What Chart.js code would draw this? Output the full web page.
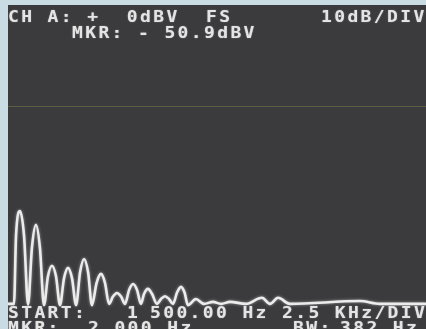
<!DOCTYPE html>
<html>
<head>
<meta charset="utf-8">
<script src="https://cdn.jsdelivr.net/npm/chart.js@4"></script>
<style>
html, body { margin: 0; padding: 0; background: #c9dce4; overflow: hidden; }
#spectrum { display: block; }
</style>
</head>
<body>
<canvas id="spectrum" width="426" height="329"></canvas>
<script>
// Spectrum analyser trace (Hz / dBV)
const freqHz = [1500, 1860, 1980, 2220, 2460, 2700, 2930, 3170, 3410, 3650,
                3890, 4130, 4370, 4610, 4850, 5090, 5330, 5570, 5810, 6050,
                6290, 6520, 6800, 7060, 7300, 7540, 7780, 8020, 8260, 8500,
                8740, 8980, 9220, 9450, 9640, 9870, 10110, 10410, 10650, 10890,
                11130, 11370, 11610, 11850, 12060, 12260, 12740, 13220, 13760, 14240,
                14780, 15730, 16690, 17170, 17650, 18360, 22550, 23750, 26500];
const levelDbv = [-73.8, -73.8, -57.0, -50.9, -57.0, -74.0, -60.0, -54.3, -60.0, -74.1,
                  -67.0, -64.4, -67.0, -74.1, -67.5, -64.9, -67.5, -74.1, -66.0, -62.7,
                  -66.0, -74.1, -68.6, -66.4, -68.6, -73.8, -72.0, -71.1, -72.0, -73.8,
                  -70.4, -68.9, -70.4, -73.8, -71.3, -70.1, -71.3, -73.8, -72.6, -71.9,
                  -72.6, -73.8, -71.0, -69.6, -71.0, -74.1, -72.6, -73.8, -73.3, -73.8,
                  -73.3, -73.8, -72.3, -73.8, -72.3, -73.8, -73.1, -73.8, -73.8];

const startHz = 1500;
const stopHz = 26500;
const gridDbv = [-25];

// on-screen readouts: [text, x, baseline y]
const readouts = [
    ['CH A: +  0dBV  FS', 8, 22],
    ['10dB/DIV', 321, 22],
    ['MKR: - 50.9dBV', 72, 38],
    ['START:', 8, 318],
    ['1', 127, 318],
    ['500.00 Hz 2.5 KHz/DIV', 150, 318],
    ['MKR:', 8, 333],
    ['2 000 Hz', 88, 333],
    ['BW:', 293, 333],
    ['382 Hz', 340, 333]
];

const PITCH = 13.2;

function drawMono(ctx, text, x, y) {
    for (let i = 0; i < text.length; i++) {
        ctx.save();
        ctx.translate(x + i * PITCH, y);
        ctx.scale(1.2, 1);
        ctx.fillText(text[i], 0, 0);
        ctx.restore();
    }
}

const screenPlugin = {
    id: 'screen',
    beforeDraw(chart) {
        const ctx = chart.ctx;
        const a = chart.chartArea;
        ctx.save();
        ctx.fillStyle = '#c9dce4';
        ctx.fillRect(0, 0, chart.width, chart.height);
        ctx.fillStyle = '#3b3b3d';
        ctx.fillRect(a.left, a.top, a.right - a.left, a.bottom - a.top);
        ctx.restore();
    },
    beforeDatasetsDraw(chart) {
        chart.ctx.save();
        chart.ctx.shadowColor = 'rgba(255,255,255,0.5)';
        chart.ctx.shadowBlur = 3;
    },
    afterDatasetsDraw(chart) {
        chart.ctx.restore();
    },
    afterDraw(chart) {
        const ctx = chart.ctx;
        ctx.save();
        ctx.font = 'bold 15px "DejaVu Sans Mono"';
        ctx.fillStyle = '#e4e4e4';
        ctx.textBaseline = 'alphabetic';
        ctx.shadowColor = 'rgba(255,255,255,0.4)';
        ctx.shadowBlur = 1.5;
        readouts.forEach(r => drawMono(ctx, r[0], r[1], r[2]));
        ctx.restore();
    }
};

const points = freqHz.map((f, i) => ({ x: f, y: levelDbv[i] }));

new Chart(document.getElementById('spectrum'), {
    type: 'line',
    data: {
        datasets: [{
            data: points,
            borderColor: '#ececec',
            borderWidth: 2.6,
            pointRadius: 0,
            fill: false,
            cubicInterpolationMode: 'monotone'
        }]
    },
    options: {
        responsive: false,
        animation: false,
        layout: { padding: { left: 8, top: 5, right: 0, bottom: 0 } },
        plugins: {
            legend: { display: false },
            tooltip: { enabled: false }
        },
        scales: {
            x: {
                type: 'linear',
                min: startHz,
                max: stopHz,
                display: false
            },
            y: {
                min: -80,
                max: 0,
                ticks: { display: false },
                border: { display: false },
                grid: { color: 'rgba(120,125,70,0.55)', lineWidth: 1, drawTicks: false },
                afterBuildTicks(scale) {
                    scale.ticks = gridDbv.map(v => ({ value: v }));
                },
                afterFit(scale) { scale.width = 0; }
            }
        }
    },
    plugins: [screenPlugin]
});
</script>
</body>
</html>
